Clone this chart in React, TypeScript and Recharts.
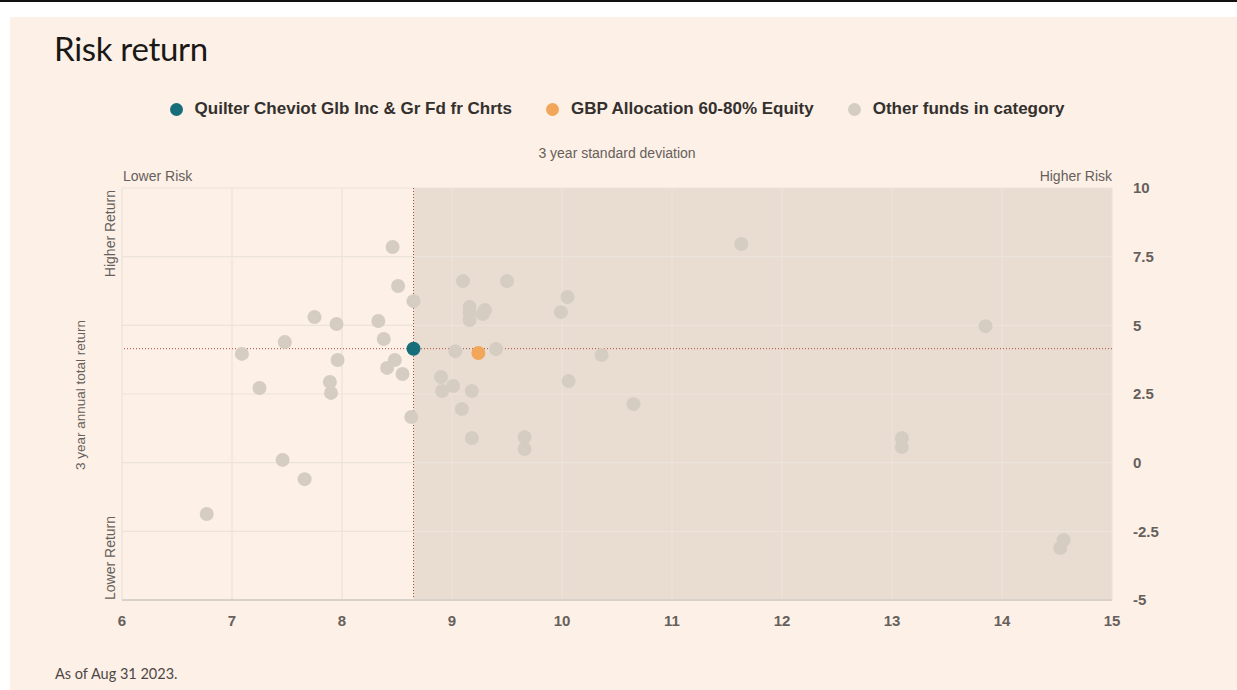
import React from 'react';
import { ScatterChart, Scatter, XAxis, YAxis, ReferenceArea, ReferenceLine } from 'recharts';

const fundName = 'Quilter Cheviot Glb Inc & Gr Fd fr Chrts';
const categoryName = 'GBP Allocation 60-80% Equity';
const otherName = 'Other funds in category';

const fundX = [8.65];
const fundY = [4.15];
const categoryX = [9.24];
const categoryY = [3.99];

const otherX = [6.77, 7.09, 7.25, 7.48, 7.46, 7.66, 7.75, 7.95, 7.96, 7.89, 7.9, 8.33, 8.38, 8.46, 8.51, 8.65, 8.48, 8.41, 8.55, 8.63, 9.03, 9.4, 10.36, 9.1, 9.5, 9.16, 9.3, 9.28, 9.16, 9.16, 10.05, 9.99, 8.9, 8.91, 9.01, 9.18, 9.09, 10.06, 10.65, 9.18, 9.66, 9.66, 13.85, 13.09, 13.09, 14.56, 14.53, 11.63];
const otherY = [-1.87, 3.96, 2.72, 4.39, 0.1, -0.6, 5.3, 5.05, 3.74, 2.94, 2.54, 5.16, 4.5, 7.85, 6.43, 5.88, 3.74, 3.45, 3.23, 1.66, 4.06, 4.14, 3.92, 6.61, 6.61, 5.67, 5.56, 5.41, 5.45, 5.19, 6.03, 5.48, 3.12, 2.61, 2.79, 2.61, 1.95, 2.97, 2.13, 0.9, 0.93, 0.5, 4.97, 0.9, 0.57, -2.82, -3.11, 7.96];

const xTicks = [6, 7, 8, 9, 10, 11, 12, 13, 14, 15];
const yTicks = [-5, -2.5, 0, 2.5, 5, 7.5, 10];

const COLORS = { fund: '#176e7b', category: '#f2a65a', other: '#d6cdc2' };

const zip = (xs: number[], ys: number[]) => xs.map((x, i) => ({ x, y: ys[i] }));
const fundData = zip(fundX, fundY);
const categoryData = zip(categoryX, categoryY);
const otherData = zip(otherX, otherY);

const dot = (color: string) => (props: any) => (
  <circle cx={props.cx} cy={props.cy} r={7} fill={color} />
);

const sans = '"Liberation Sans", Arial, sans-serif';
const labelColor = '#66605c';

const LegendItem = ({ color, text }: { color: string; text: string }) => (
  <div style={{ display: 'flex', alignItems: 'center', margin: '0 17px' }}>
    <span style={{ width: 13, height: 13, borderRadius: '50%', background: color, display: 'inline-block', marginRight: 12 }} />
    <span style={{ fontFamily: sans, fontWeight: 700, fontSize: 17, color: '#33302e' }}>{text}</span>
  </div>
);

export default function App() {
  return (
    <div style={{ position: 'absolute', left: 0, top: 0, width: 1237, height: 690, background: '#ffffff', overflow: 'hidden' }}>
      <div style={{ position: 'absolute', left: 0, top: 0, width: 1237, height: 2, background: '#111' }} />
      <div style={{ position: 'absolute', left: 10, top: 17, width: 1227, height: 673, background: '#fdf0e6' }} />
      <div style={{ position: 'absolute', left: 54, top: 28, fontFamily: 'Lato, sans-serif', fontSize: 33, color: '#1a1817', letterSpacing: -0.3 }}>Risk return</div>
      <div style={{ position: 'absolute', left: 122, top: 99, width: 990, display: 'flex', justifyContent: 'center' }}>
        <LegendItem color={COLORS.fund} text={fundName} />
        <LegendItem color={COLORS.category} text={categoryName} />
        <LegendItem color={COLORS.other} text={otherName} />
      </div>
      <div style={{ position: 'absolute', left: 122, top: 145, width: 990, textAlign: 'center', fontFamily: sans, fontSize: 14, color: labelColor }}>3 year standard deviation</div>
      <div style={{ position: 'absolute', left: 123, top: 168, fontFamily: sans, fontSize: 14, color: labelColor }}>Lower Risk</div>
      <div style={{ position: 'absolute', right: 1237 - 1112, top: 168, fontFamily: sans, fontSize: 14, color: labelColor }}>Higher Risk</div>
      <svg style={{ position: 'absolute', left: 0, top: 0 }} width={1237} height={690}>
        <text x={0} y={0} transform="translate(85,395) rotate(-90)" textAnchor="middle" fontFamily={sans} fontSize={13.5} fill={labelColor}>3 year annual total return</text>
        <text x={0} y={0} transform="translate(115,190) rotate(-90)" textAnchor="end" fontFamily={sans} fontSize={14} fill={labelColor}>Higher Return</text>
        <text x={0} y={0} transform="translate(115,600) rotate(-90)" textAnchor="start" fontFamily={sans} fontSize={14} fill={labelColor}>Lower Return</text>
      </svg>
      <div style={{ position: 'absolute', left: 0, top: 0 }}>
        <ScatterChart width={1237} height={690} margin={{ top: 188, right: 10, bottom: 60, left: 122 }}>
          <XAxis
            type="number"
            dataKey="x"
            domain={[6, 15]}
            ticks={xTicks}
            allowDataOverflow
            height={30}
            tickSize={0}
            tickMargin={15}
            axisLine={{ stroke: '#d9d2ca', strokeWidth: 2 }}
            tick={{ fontFamily: sans, fontSize: 15, fontWeight: 700, fill: labelColor }}
          />
          <YAxis
            type="number"
            dataKey="y"
            orientation="right"
            domain={[-5, 10]}
            ticks={yTicks}
            allowDataOverflow
            width={115}
            axisLine={false}
            tickLine={false}
            tickSize={0}
            tickMargin={21}
            tick={{ fontFamily: sans, fontSize: 15, fontWeight: 700, fill: labelColor }}
          />
          <ReferenceArea x1={fundX[0]} x2={15} y1={-5} y2={10} fill="#e9ddd1" fillOpacity={1} stroke="none" />
          {xTicks.map((t) => (
            <ReferenceLine key={'gx' + t} x={t} stroke="#ece3da" strokeWidth={1.2} />
          ))}
          {yTicks.map((t) => (
            <ReferenceLine key={'gy' + t} y={t} stroke="#ece3da" strokeWidth={1.2} />
          ))}
          <ReferenceLine x={fundX[0]} stroke="#b0473d" strokeDasharray="1 2" strokeWidth={1} />
          <ReferenceLine y={fundY[0]} stroke="#b0473d" strokeDasharray="1 2" strokeWidth={1} />
          <Scatter name={otherName} data={otherData} shape={dot(COLORS.other)} isAnimationActive={false} />
          <Scatter name={categoryName} data={categoryData} shape={dot(COLORS.category)} isAnimationActive={false} />
          <Scatter name={fundName} data={fundData} shape={dot(COLORS.fund)} isAnimationActive={false} />
        </ScatterChart>
      </div>
      <div style={{ position: 'absolute', left: 55, top: 665, fontFamily: 'Lato, sans-serif', fontSize: 14.5, color: '#4d4845' }}>As of Aug 31 2023.</div>
    </div>
  );
}
